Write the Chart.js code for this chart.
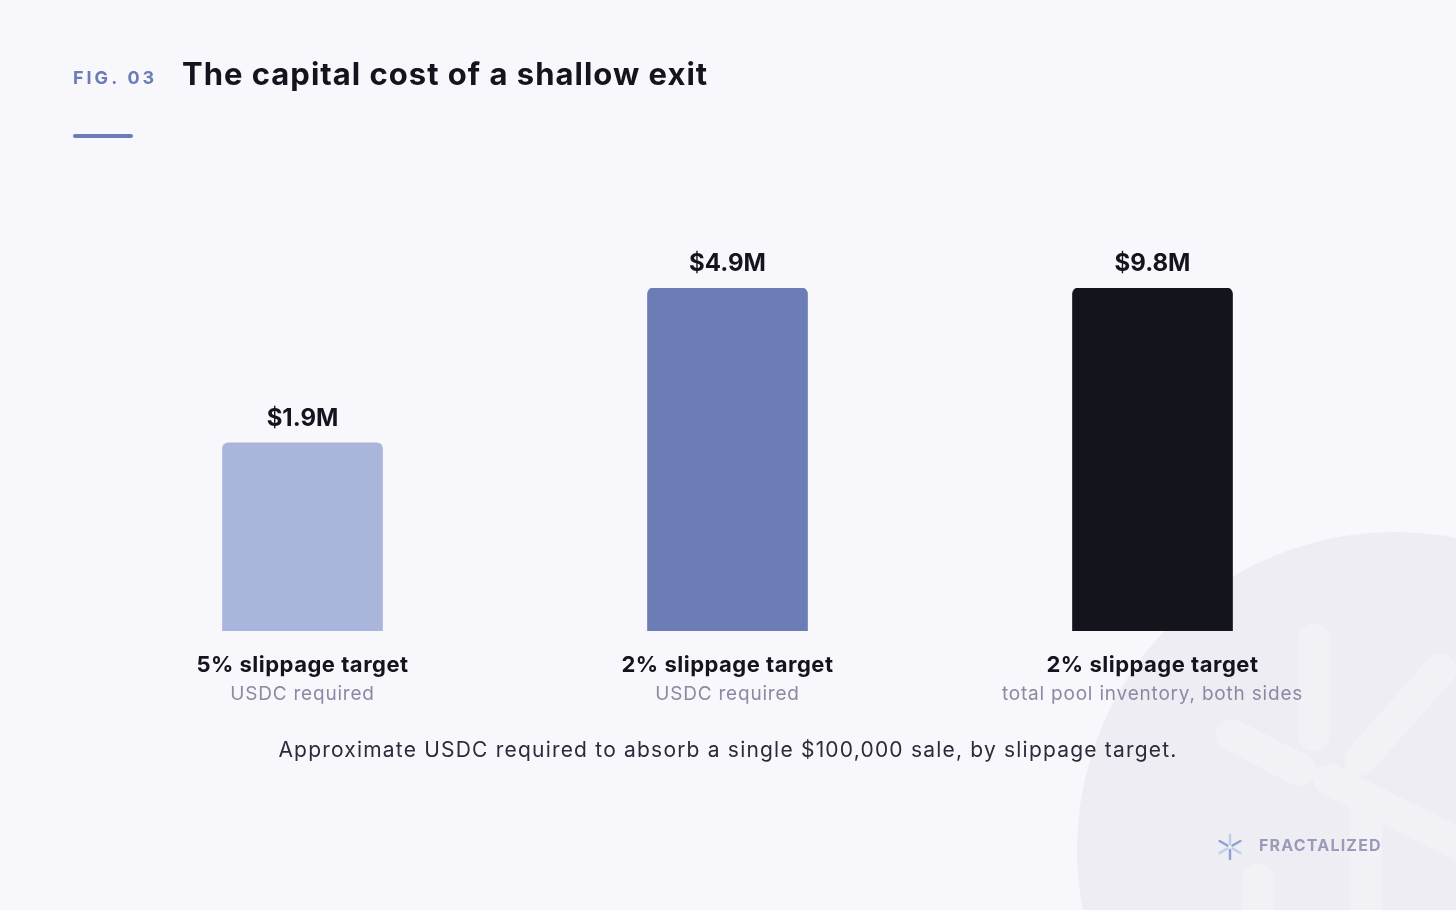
<!DOCTYPE html>
<html>
<head>
<meta charset="utf-8">
<script src="https://cdn.jsdelivr.net/npm/chart.js@4/dist/chart.umd.min.js"></script>
<style>
  html, body { margin: 0; padding: 0; background: #f7f7fc; }
  #wrap { width: 1456px; height: 910px; position: relative; }
</style>
</head>
<body>
<div id="wrap"><canvas id="grafico"></canvas></div>
<script>
// Dados
const categorias = ['5% slippage target', '2% slippage target', '2% slippage target'];
const subtitulos = ['USDC required', 'USDC required', 'total pool inventory, both sides'];
const usdcNecessario = [1.9, 4.9, null];     // lado USDC (eixo y)
const inventarioTotal = [null, null, 9.8];   // ambos os lados (eixo y2, escala dobrada)
const rotulosValor = ['$1.9M', '$4.9M', '$9.8M'];
const cores = ['#aab5dc', '#6c7db6', '#14141d'];

const FONTE = 'Inter, "Noto Sans", sans-serif';

// Fundo, título, marca d'água e textos
const decoracao = {
  id: 'decoracao',
  beforeDraw(chart) {
    const c = chart.ctx;
    c.save();
    c.fillStyle = '#f7f7fc';
    c.fillRect(0, 0, chart.width, chart.height);

    // círculo da marca d'água
    c.beginPath();
    c.arc(1395, 850, 318, 0, Math.PI * 2);
    c.fillStyle = '#ededf3';
    c.fill();
    c.clip();
    c.strokeStyle = '#f1f1f6';
    c.lineWidth = 32;
    c.lineCap = 'round';
    c.beginPath();
    c.moveTo(1314, 640); c.lineTo(1314, 735);
    c.moveTo(1232, 735); c.lineTo(1300, 770);
    c.moveTo(1330, 780); c.lineTo(1470, 850);
    c.moveTo(1440, 670); c.lineTo(1360, 760);
    c.moveTo(1366, 800); c.lineTo(1366, 920);
    c.moveTo(1258, 880); c.lineTo(1258, 920);
    c.stroke();
    c.restore();

    c.save();
    // FIG. 03
    c.font = `bold 18px ${FONTE}`;
    c.fillStyle = '#6b7db7';
    c.letterSpacing = '3px';
    c.textBaseline = 'alphabetic';
    c.fillText('FIG. 03', 73, 84);
    // título
    c.font = `bold 31px ${FONTE}`;
    c.letterSpacing = '1px';
    c.fillStyle = '#14141e';
    c.fillText('The capital cost of a shallow exit', 182, 85);
    c.letterSpacing = '0px';
    // linha
    c.strokeStyle = '#6b7db7';
    c.lineWidth = 4;
    c.lineCap = 'round';
    c.beginPath();
    c.moveTo(75, 136); c.lineTo(131, 136);
    c.stroke();

    // logo FRACTALIZED
    const lx = 1230, ly = 847;
    c.lineWidth = 2.5;
    for (let i = 0; i < 6; i++) {
      const a = i * Math.PI / 3 + Math.PI / 6;
      c.strokeStyle = i % 2 ? '#8fa1d6' : '#c3cdea';
      c.beginPath();
      c.moveTo(lx + Math.cos(a) * 3, ly + Math.sin(a) * 3);
      c.lineTo(lx + Math.cos(a) * 12, ly + Math.sin(a) * 12);
      c.stroke();
    }
    c.font = `bold 16px ${FONTE}`;
    c.fillStyle = '#9a9cb7';
    c.letterSpacing = '1.2px';
    c.textBaseline = 'middle';
    c.fillText('FRACTALIZED', 1259, 846);
    c.restore();
  },
  afterDatasetsDraw(chart) {
    const c = chart.ctx;
    const x = chart.scales.x;
    c.save();
    c.textAlign = 'center';
    c.textBaseline = 'alphabetic';
    chart.data.datasets.forEach((ds, di) => {
      chart.getDatasetMeta(di).data.forEach((bar, i) => {
        if (ds.data[i] == null) return;
        c.font = `bold 24px ${FONTE}`;
        c.letterSpacing = '0px';
        c.fillStyle = '#14141e';
        c.fillText(rotulosValor[i], bar.x, bar.y - 17);
      });
    });
    categorias.forEach((cat, i) => {
      const cx = x.getPixelForValue(i);
      c.font = `bold 22px ${FONTE}`;
      c.letterSpacing = '0.5px';
      c.fillStyle = '#14141e';
      c.fillText(cat, cx, 672);
      c.font = `19px ${FONTE}`;
      c.letterSpacing = '0.8px';
      c.fillStyle = '#8a8aa3';
      c.fillText(subtitulos[i], cx, 700);
    });
    c.font = `21px ${FONTE}`;
    c.letterSpacing = '1.2px';
    c.fillStyle = '#2b2b3a';
    c.fillText('Approximate USDC required to absorb a single $100,000 sale, by slippage target.', 728, 757);
    c.restore();
  }
};

const ctx = document.getElementById('grafico').getContext('2d');
const grafico = new Chart(ctx, {
  type: 'bar',
  data: {
    labels: categorias,
    datasets: [{
      data: usdcNecessario,
      yAxisID: 'y',
      base: -1.75,
      backgroundColor: cores,
      borderRadius: { topLeft: 6, topRight: 6 },
      borderSkipped: 'bottom',
      barThickness: 160,
      skipNull: true
    }, {
      data: inventarioTotal,
      yAxisID: 'y2',
      base: -3.5,
      backgroundColor: cores,
      borderRadius: { topLeft: 6, topRight: 6 },
      borderSkipped: 'bottom',
      barThickness: 160,
      skipNull: true
    }]
  },
  options: {
    responsive: true,
    maintainAspectRatio: false,
    animation: false,
    layout: { padding: { left: 90, right: 91, top: 288, bottom: 279 } },
    plugins: { legend: { display: false }, tooltip: { enabled: false } },
    scales: {
      x: { display: false, stacked: false },
      y: { display: false, min: -1.75, max: 4.9 },
      y2: { display: false, min: -3.5, max: 9.8 }
    }
  },
  plugins: [decoracao]
});
</script>
</body>
</html>
